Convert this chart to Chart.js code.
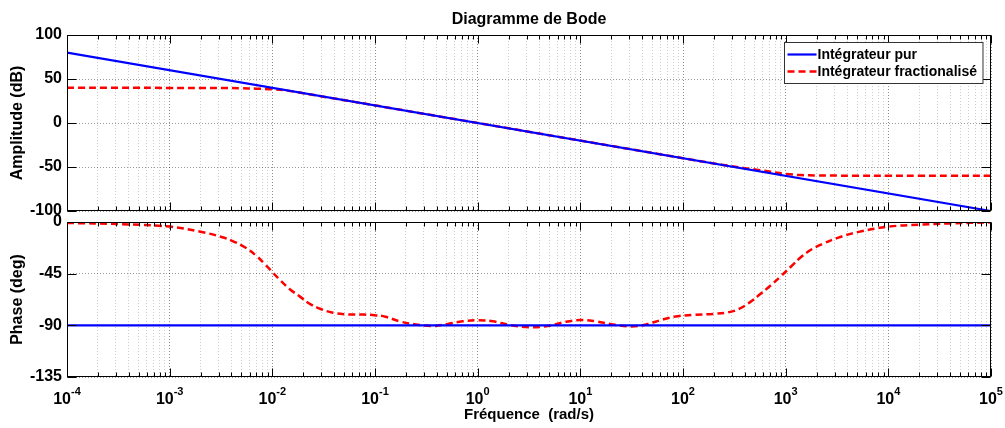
<!DOCTYPE html>
<html>
<head>
<meta charset="utf-8">
<script src="https://cdn.jsdelivr.net/npm/chart.js@4.4.1/dist/chart.umd.min.js"></script>
<style>
html, body { margin: 0; padding: 0; background: #fff; }
#wrap { position: relative; width: 1005px; height: 428px; }
canvas { position: absolute; left: 0; top: 0; }
</style>
</head>
<body>
<div id="wrap">
    <canvas id="phaseChart" width="1005" height="428"></canvas>
    <canvas id="ampChart" width="1005" height="428"></canvas>
</div>
<script>
// decade ticks on the frequency axis
const decadeTicks = [1e-4, 1e-3, 1e-2, 1e-1, 1, 10, 100, 1e3, 1e4, 1e5];
const decadeExponents = ['-4', '-3', '-2', '-1', '0', '1', '2', '3', '4', '5'];

// pure integrator (blue)
const pureFreq = [1e-4, 1e5];
const pureAmp = [80, -100];
const purePhase = [-90, -90];

// fractional integrator (red, dashed) - amplitude
const fracAmpFreq = [0.0001, 0.00032, 0.001, 0.002, 0.0032, 0.005, 0.007, 0.01, 0.014, 0.02,
    0.028, 0.04, 0.063, 0.089, 0.126, 0.178, 0.25, 0.355, 0.5, 0.71,
    1, 1.41, 2, 3.16, 5, 7.1, 10, 14.1, 20, 31.6,
    44.7, 63, 89, 126, 200, 282, 398, 562, 794, 1000,
    1413, 2000, 3162, 5012, 10000, 20000, 40000, 100000];
const fracAmp = [40, 40, 39.9, 39.9, 39.8, 39.5, 39.0, 38.2, 36.8, 33.8,
    30.9, 27.8, 24.0, 21.0, 18.0, 15.0, 12.0, 9.0, 6.0, 3.0,
    0, -3, -6, -10, -14, -17, -20, -23, -26, -30,
    -33, -36, -39, -42, -45.9, -48.7, -51.3, -53.7, -56.2, -57.9,
    -59.2, -59.6, -59.8, -59.9, -60, -60, -60, -60];

// fractional integrator (red, dashed) - phase
const fracPhaseFreq = [0.0001, 0.00032, 0.001, 0.002, 0.0032, 0.0042, 0.0054, 0.0071, 0.0085, 0.01,
    0.012, 0.0148, 0.0186, 0.0234, 0.030, 0.039, 0.05, 0.071, 0.095, 0.126,
    0.178, 0.25, 0.355, 0.5, 0.71, 1, 1.41, 2, 3.16, 5,
    7.1, 10, 14.1, 20, 31.6, 44.7, 63, 89, 126, 200,
    282, 355, 447, 562, 708, 891, 1122, 1413, 1778, 2239,
    3162, 5012, 10000, 20000, 40000, 100000];
const fracPhase = [-0.8, -1.8, -4, -8.5, -13, -17, -22, -30, -37, -43.5,
    -51, -58.5, -65, -71.5, -76, -79, -80.3, -80.6, -81, -82.5,
    -86.8, -89.2, -90.6, -89, -86.5, -85.6, -86.5, -89.5, -91.7, -90.3,
    -87, -85.4, -86.5, -89, -91, -89, -85, -82, -81, -80,
    -78.5, -75.5, -70, -63, -55.5, -47.5, -39, -30.5, -24, -19.5,
    -14, -8.8, -4.1, -2.3, -1.2, -0.3];

const FONT = "'Liberation Sans', Arial, sans-serif";
Chart.defaults.font.family = FONT;
Chart.defaults.color = '#000';

const isDecade = v => Math.abs(Math.log10(v) - Math.round(Math.log10(v))) < 1e-6;
const toPoints = (xs, ys) => xs.map((x, i) => ({ x: x, y: ys[i] }));

function logTicks(scale) {
    const ticks = [];
    decadeTicks.forEach((d, i) => {
        if (i === decadeTicks.length - 1) { ticks.push({ value: d }); return; }
        for (let s = 1; s <= 9; s++) ticks.push({ value: s * d });
    });
    scale.ticks = ticks;
}

function xScale(height, withTitle) {
    return {
        type: 'logarithmic',
        min: 1e-4,
        max: 1e5,
        afterBuildTicks: logTicks,
        afterFit: s => { s.height = height; },
        ticks: { display: false, autoSkip: false },
        grid: {
            drawTicks: false,
            lineWidth: 1,
            color: c => (c.tick && isDecade(c.tick.value)) ? 'rgba(0,0,0,0.45)' : 'rgba(0,0,0,0.2)'
        },
        border: { display: false, dash: [1, 2] },
        title: {
            display: withTitle,
            text: 'Fréquence  (rad/s)',
            font: { size: 15, weight: 'bold' },
            padding: { top: 0, bottom: 4 }
        }
    };
}

function yScale(min, max, step, label) {
    return {
        min: min,
        max: max,
        afterFit: s => { s.width = 67; },
        ticks: { stepSize: step, padding: 5, font: { size: 16, weight: 'bold' } },
        grid: { drawTicks: false, lineWidth: 1, color: 'rgba(0,0,0,0.4)' },
        border: { display: false, dash: [1, 2] },
        title: {
            display: true,
            text: label,
            font: { size: 16, weight: 'bold' },
            padding: { top: 8, bottom: 0 }
        }
    };
}

// black box around the axes with inward tick marks
const boxPlugin = {
    id: 'box',
    afterDatasetsDraw(chart) {
        const { ctx, chartArea: a, scales } = chart;
        const L = Math.round(a.left) + 0.5, R = Math.round(a.right) - 0.5;
        const T = Math.round(a.top) + 0.5, B = Math.round(a.bottom) - 0.5;
        ctx.save();
        ctx.strokeStyle = '#000';
        ctx.lineWidth = 1;
        ctx.beginPath();
        scales.x.ticks.forEach(t => {
            const px = Math.round(scales.x.getPixelForValue(t.value)) + 0.5;
            const len = isDecade(t.value) ? 8 : 4;
            ctx.moveTo(px, T); ctx.lineTo(px, T + len);
            ctx.moveTo(px, B); ctx.lineTo(px, B - len);
        });
        scales.y.ticks.forEach(t => {
            const py = Math.round(scales.y.getPixelForValue(t.value)) + 0.5;
            ctx.moveTo(L, py); ctx.lineTo(L + 9, py);
            ctx.moveTo(R, py); ctx.lineTo(R - 9, py);
        });
        ctx.stroke();
        ctx.strokeRect(L, T, R - L, B - T);
        ctx.restore();
    }
};

// title and legend box for the amplitude plot
const legendPlugin = {
    id: 'innerLegend',
    afterDraw(chart) {
        const { ctx, chartArea: a } = chart;
        const sets = chart.data.datasets;
        ctx.save();
        ctx.fillStyle = '#000';
        ctx.font = 'bold 16px ' + FONT;
        ctx.textAlign = 'center';
        ctx.textBaseline = 'middle';
        ctx.fillText('Diagramme de Bode', (a.left + a.right) / 2, 20);

        ctx.font = 'bold 14px ' + FONT;
        const textW = Math.max(...sets.map(d => ctx.measureText(d.label).width));
        const w = 34 + textW + 5, h = 41;
        const x0 = Math.round(a.right - 9 - w) + 0.5, y0 = Math.round(a.top + 7) + 0.5;
        ctx.fillStyle = '#fff';
        ctx.fillRect(x0, y0, w, h);
        ctx.strokeStyle = '#333';
        ctx.lineWidth = 1;
        ctx.strokeRect(x0, y0, w, h);
        sets.forEach((d, i) => {
            const cy = y0 + 12 + i * 17;
            ctx.strokeStyle = d.borderColor;
            ctx.lineWidth = d.borderWidth;
            ctx.setLineDash(d.borderDash || []);
            ctx.beginPath();
            ctx.moveTo(x0 + 3, cy);
            ctx.lineTo(x0 + 32, cy);
            ctx.stroke();
            ctx.setLineDash([]);
            ctx.fillStyle = '#000';
            ctx.textAlign = 'left';
            ctx.fillText(d.label, x0 + 33, cy + 1);
        });
        ctx.restore();
    }
};

// 10^n labels under the phase plot
const decadeLabelPlugin = {
    id: 'decadeLabels',
    afterDraw(chart) {
        const { ctx, chartArea: a, scales } = chart;
        ctx.save();
        ctx.fillStyle = '#000';
        ctx.textAlign = 'left';
        ctx.textBaseline = 'alphabetic';
        decadeTicks.forEach((v, i) => {
            const px = scales.x.getPixelForValue(v);
            ctx.font = 'bold 16px ' + FONT;
            const w1 = ctx.measureText('10').width;
            ctx.font = 'bold 11px ' + FONT;
            const w2 = ctx.measureText(decadeExponents[i]).width;
            const x0 = px - (w1 + w2) / 2;
            ctx.font = 'bold 16px ' + FONT;
            ctx.fillText('10', x0, a.bottom + 27);
            ctx.font = 'bold 11px ' + FONT;
            ctx.fillText(decadeExponents[i], x0 + w1, a.bottom + 18);
        });
        ctx.restore();
    }
};

const pureStyle = { borderColor: '#0000ff', borderWidth: 2.2, pointRadius: 0 };
const fracStyle = { borderColor: '#ff0000', borderWidth: 2.5, borderDash: [7, 4], pointRadius: 0, tension: 0.4 };

new Chart(document.getElementById('ampChart').getContext('2d'), {
    type: 'line',
    data: {
        datasets: [
            Object.assign({ label: 'Intégrateur pur', data: toPoints(pureFreq, pureAmp) }, pureStyle),
            Object.assign({ label: 'Intégrateur fractionalisé', data: toPoints(fracAmpFreq, fracAmp) }, fracStyle)
        ]
    },
    options: {
        responsive: false,
        animation: false,
        events: [],
        layout: { padding: { left: 0, right: 14, top: 35, bottom: 217 } },
        scales: {
            x: xScale(0, false),
            y: yScale(-100, 100, 50, 'Amplitude (dB)')
        },
        plugins: {
            legend: { display: false },
            tooltip: { enabled: false }
        }
    },
    plugins: [boxPlugin, legendPlugin]
});

new Chart(document.getElementById('phaseChart').getContext('2d'), {
    type: 'line',
    data: {
        datasets: [
            Object.assign({ label: 'Intégrateur pur', data: toPoints(pureFreq, purePhase) }, pureStyle),
            Object.assign({ label: 'Intégrateur fractionalisé', data: toPoints(fracPhaseFreq, fracPhase) }, fracStyle)
        ]
    },
    options: {
        responsive: false,
        animation: false,
        events: [],
        layout: { padding: { left: 0, right: 14, top: 222, bottom: 0 } },
        scales: {
            x: xScale(51, true),
            y: yScale(-135, 0, 45, 'Phase (deg)')
        },
        plugins: {
            legend: { display: false },
            tooltip: { enabled: false }
        }
    },
    plugins: [boxPlugin, decadeLabelPlugin]
});
</script>
</body>
</html>
